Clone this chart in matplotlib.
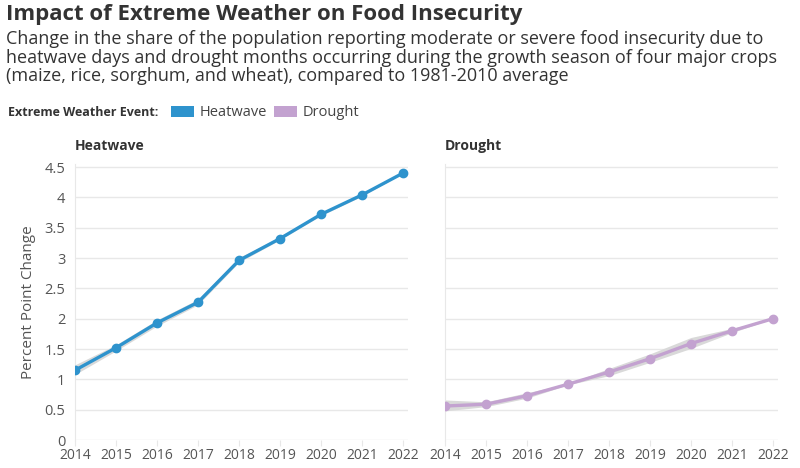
import numpy as np
import matplotlib.pyplot as plt
from matplotlib.patches import Patch

plt.rcParams['font.family'] = ['Open Sans', 'DejaVu Sans']

# data
years = [2014, 2015, 2016, 2017, 2018, 2019, 2020, 2021, 2022]
heatwave = [1.15, 1.52, 1.93, 2.27, 2.96, 3.32, 3.72, 4.04, 4.40]
heatwave_lo = [1.08, 1.47, 1.88, 2.23, 2.93, 3.30, 3.70, 4.02, 4.40]
heatwave_hi = [1.24, 1.57, 1.98, 2.32, 3.01, 3.35, 3.74, 4.06, 4.40]
drought = [0.56, 0.59, 0.73, 0.92, 1.12, 1.34, 1.59, 1.80, 2.00]
drought_lo = [0.48, 0.55, 0.69, 0.91, 1.06, 1.28, 1.51, 1.77, 2.00]
drought_hi = [0.66, 0.63, 0.78, 0.93, 1.18, 1.42, 1.69, 1.84, 2.00]
yticks = [0, 0.5, 1, 1.5, 2, 2.5, 3, 3.5, 4, 4.5]

blue = '#2e93cd'
purple = '#c3a2d0'
band = '#d9d9d9'
grid = '#e8e8e8'

fig = plt.figure(figsize=(8, 4.68), dpi=100)

fig.text(0.008, 0.968, 'Impact of Extreme Weather on Food Insecurity',
         fontsize=16, fontweight='bold', color='#333333', va='center')
fig.text(0.008, 0.877,
         'Change in the share of the population reporting moderate or severe food insecurity due to\n'
         'heatwave days and drought months occurring during the growth season of four major crops\n'
         '(maize, rice, sorghum, and wheat), compared to 1981-2010 average',
         fontsize=13, color='#333333', va='center', linespacing=1.05)

fig.text(0.01, 0.759, 'Extreme Weather Event:', fontsize=9, fontweight='bold',
         color='#333333', va='center')
handles = [Patch(facecolor=blue, label='Heatwave'), Patch(facecolor=purple, label='Drought')]
fig.legend(handles=handles, loc='center left', bbox_to_anchor=(0.197, 0.759), ncol=2,
           frameon=False, fontsize=10.5, handlelength=1.6, handleheight=0.8,
           handletextpad=0.35, columnspacing=0.5, labelcolor='#444444')

panels = [
    ('Heatwave', heatwave, heatwave_lo, heatwave_hi, blue, 75),
    ('Drought', drought, drought_lo, drought_hi, purple, 445),
]
for name, vals, lo, hi, col, x0 in panels:
    x1 = x0 + 328
    ax = fig.add_axes([x0 / 800, 28 / 468, (x1 - x0) / 800 / 0.985, 276 / 468])
    ax.fill_between(years, lo, hi, color=band, lw=0, zorder=2)
    ax.plot(years, vals, color=col, lw=2.4, marker='o', ms=6, zorder=3)
    ax.set_xlim(2014, 2014 + 8 / 0.985)
    ax.set_ylim(0, 4.55)
    ax.set_yticks(yticks)
    ax.set_xticks(years)
    ax.set_yticklabels(['0', '0.5', '1', '1.5', '2', '2.5', '3', '3.5', '4', '4.5'])
    ax.grid(axis='y', color=grid, lw=1)
    ax.set_axisbelow(True)
    for s in ['top', 'right', 'bottom']:
        ax.spines[s].set_visible(False)
    ax.spines['left'].set_color(grid)
    ax.spines['left'].set_bounds(0, 4.55)
    ax.tick_params(axis='y', length=0, labelsize=10.5, labelcolor='#555555', pad=7)
    ax.tick_params(axis='x', length=4, color=grid, labelsize=10, labelcolor='#555555', pad=2)
    ax.set_title(name, loc='left', fontsize=10, fontweight='bold', color='#333333', pad=10)
    if name == 'Drought':
        ax.set_yticklabels([])
    else:
        ax.set_ylabel('Percent Point Change', fontsize=11, color='#555555', labelpad=6)

fig.savefig('out.png', dpi=100)
